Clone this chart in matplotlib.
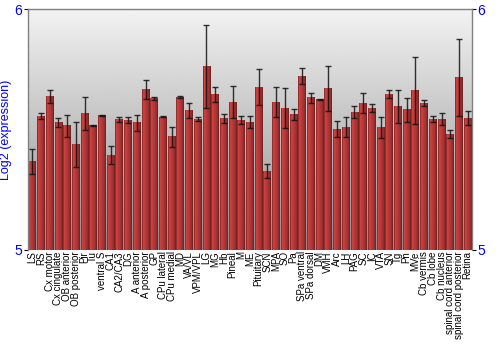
import numpy as np
import matplotlib
matplotlib.use("Agg")
import matplotlib.pyplot as plt

plt.rcParams['font.family'] = ['Liberation Sans', 'DejaVu Sans']

regions = ["LS", "RS", "Cx motor", "Cx cingulate", "OB anterior", "OB posterior",
           "Pir", "Tu", "ventral S", "CA1", "CA2/CA3", "DG", "A anterior",
           "A posterior", "GP", "CPu lateral", "CPu medial", "MD", "VA/VL",
           "VPM/VPL", "LG", "MG", "Hb", "Pineal", "M", "ME", "Pituitary", "SCN",
           "MPA", "SO", "Pa", "SPa ventral", "SPa dorsal", "DM", "VMH", "Arc",
           "LH", "PAG", "SC", "IC", "VTA", "SN", "Tg", "Pn", "MVe", "Cb vermis",
           "Cb lobe", "Cb nucleus", "spinal cord anterior",
           "spinal cord posterior", "Retina"]

expr = [5.369, 5.556, 5.639, 5.530, 5.515, 5.439, 5.568, 5.516, 5.557, 5.394,
        5.542, 5.538, 5.528, 5.665, 5.628, 5.552, 5.470, 5.634, 5.578, 5.544,
        5.763, 5.646, 5.545, 5.613, 5.539, 5.530, 5.676, 5.328, 5.614, 5.589,
        5.563, 5.722, 5.632, 5.624, 5.671, 5.502, 5.510, 5.573, 5.610, 5.588,
        5.508, 5.647, 5.595, 5.582, 5.661, 5.610, 5.544, 5.544, 5.480, 5.716,
        5.548]

err = [0.052, 0.014, 0.027, 0.019, 0.046, 0.093, 0.068, 0.002, 0.002, 0.039,
       0.011, 0.012, 0.034, 0.039, 0.007, 0.002, 0.041, 0.005, 0.032, 0.007,
       0.173, 0.032, 0.020, 0.067, 0.017, 0.025, 0.074, 0.028, 0.062, 0.084,
       0.023, 0.035, 0.021, 0.003, 0.093, 0.033, 0.041, 0.024, 0.042, 0.017,
       0.044, 0.016, 0.070, 0.050, 0.140, 0.011, 0.014, 0.026, 0.016, 0.158,
       0.028]

ymin, ymax = 5, 6
x = np.arange(len(regions))
w = 0.9

fig = plt.figure(figsize=(5, 3.5), dpi=100)
ax = fig.add_axes([0.056, 0.286, 0.888, 0.688])

# background vertical gradient
bg = np.linspace(0.56, 0.95, 256).reshape(-1, 1)
ax.imshow(bg, cmap='gray', vmin=0, vmax=1, aspect='auto', origin='lower',
          extent=(-0.5, len(regions) - 0.5, ymin, ymax), zorder=0)

# shaded bar strip (left edge dark, light, fading to dark right edge)
shade = np.array([0.62, 0.97, 0.95, 0.91, 0.87, 0.83, 0.79, 0.74, 0.67, 0.52])
base = np.array([212, 66, 66]) / 255.0
strip = (shade[:, None] * base[None, :]).reshape(1, -1, 3)
strip = np.clip(strip, 0, 1)

for xi, v in zip(x, expr):
    ax.imshow(strip, aspect='auto', extent=(xi - w / 2, xi + w / 2, ymin, v),
              zorder=2, interpolation='bilinear')

ax.errorbar(x, expr, yerr=err, fmt='none', ecolor='#111111', elinewidth=1,
            capsize=2, capthick=1, alpha=0.85, zorder=3)

ax.set_xlim(-0.5, len(regions) - 0.5)
ax.set_ylim(ymin, ymax)

ax.set_xticks(x)
ax.set_xticklabels(regions, rotation=90, fontsize=7)
ax.tick_params(axis='x', length=0, pad=1)

ax.set_yticks([5, 6])
ax.tick_params(axis='y', colors='black', labelcolor='blue', labelsize=10,
               length=3, left=True, right=True, labelleft=True, labelright=True,
               pad=1)
ax.set_ylabel("Log2 (expression)", color='blue', fontsize=9, labelpad=2)

for s in ['left', 'right', 'top']:
    ax.spines[s].set_color('#808080')
    ax.spines[s].set_linewidth(1)
ax.spines['bottom'].set_visible(False)

fig.savefig("out.png", dpi=100)
